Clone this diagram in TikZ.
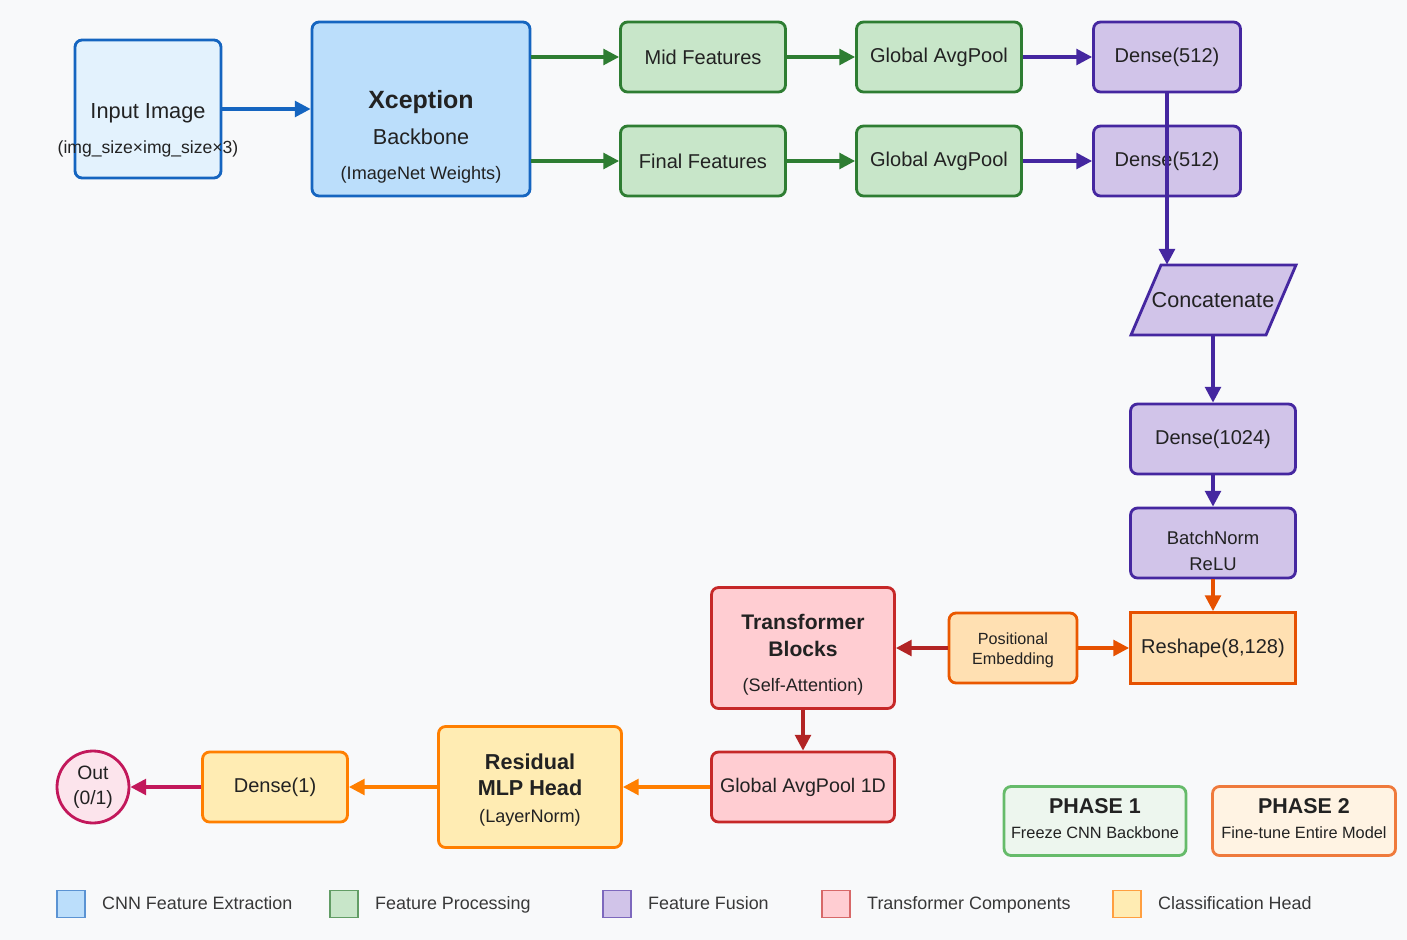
\documentclass[tikz,border=0pt]{standalone}
\usepackage{fontspec}
\setmainfont{Liberation Sans}
\usepackage{xcolor}
\usepackage{tikz}
\usetikzlibrary{positioning,calc,arrows.meta}

\definecolor{bgpage}{HTML}{F8F9FA}
\definecolor{cnnline}{HTML}{1565C0}
\definecolor{cnnfill}{HTML}{BBDEFB}
\definecolor{inpfill}{HTML}{E3F2FD}
\definecolor{procline}{HTML}{2E7D32}
\definecolor{procfill}{HTML}{C8E6C9}
\definecolor{fuseline}{HTML}{4527A0}
\definecolor{fusefill}{HTML}{D1C4E9}
\definecolor{posline}{HTML}{E65100}
\definecolor{posfill}{HTML}{FFE0B2}
\definecolor{trline}{HTML}{C62828}
\definecolor{trfill}{HTML}{FFCDD2}
\definecolor{headline}{HTML}{FF7F00}
\definecolor{headfill}{HTML}{FFECB3}
\definecolor{outline}{HTML}{C2185B}
\definecolor{outfill}{HTML}{FCE4EC}
\definecolor{ph1line}{HTML}{66BB6A}
\definecolor{ph1fill}{HTML}{EDF6EE}
\definecolor{ph2line}{HTML}{EF7A3C}
\definecolor{ph2fill}{HTML}{FFF3E3}
\definecolor{inktext}{HTML}{222222}

\newcommand{\setfs}[2]{\fontsize{#1}{#2}\selectfont}

\begin{document}
\begin{tikzpicture}[x=0.02cm, y=-0.02cm,
  box/.style={draw, line width=1.6pt, rounded corners=4pt, minimum width=3.3cm,
    minimum height=1.4cm, align=center, text=inktext, font=\setfs{11.4}{14}},
  txt/.style={align=center, text=inktext},
  arr/.style={line width=1.9pt, -{Triangle[length=9pt,width=9pt]}},
  keybox/.style={draw, line width=1.1pt, minimum width=0.56cm, minimum height=0.54cm},
  keytext/.style={anchor=base west, text=inktext!90, font=\setfs{10.2}{12}}]

  \fill[bgpage] (0,0) rectangle (1407,940);
  \useasboundingbox (0,0) rectangle (1407,940);

  % CNN feature extraction
  \node[box, draw=cnnline, fill=inpfill, minimum width=2.92cm, minimum height=2.76cm] (inimg) at (148,109) {};
  \node[txt] (inimg-txt) at (148,130)
    {\setfs{12.4}{15}Input Image\\[8pt]\setfs{10}{12}\makebox[0pt]{(img\_size×img\_size×3)}};
  \node[box, draw=cnnline, fill=cnnfill, minimum width=4.36cm, minimum height=3.48cm] (xcep) at (421,109) {};
  \node[txt] (xcep-txt) at (421,137)
    {\setfs{14.2}{17}\textbf{Xception}\\[8.5pt]\setfs{12.3}{15}Backbone\\[7.8pt]\setfs{10.3}{12}(ImageNet Weights)};
  \draw[arr, cnnline] (inimg.east) -- (xcep.west);

  % Feature processing
  \node[box, draw=procline, fill=procfill] (mid) at (703,57) {Mid Features};
  \node[box, draw=procline, fill=procfill] (final) at (703,161) {Final Features};
  \node[box, draw=procline, fill=procfill] (gap1) at (939,57) {Global AvgPool};
  \node[box, draw=procline, fill=procfill] (gap2) at (939,161) {Global AvgPool};
  \draw[arr, procline] (mid.west -| xcep.east) -- (mid.west);
  \draw[arr, procline] (final.west -| xcep.east) -- (final.west);
  \draw[arr, procline] (mid) -- (gap1);
  \draw[arr, procline] (final) -- (gap2);

  % Feature fusion
  \node[box, draw=fuseline, fill=fusefill, minimum width=2.94cm] (dns1) at (1167,57) {Dense(512)};
  \node[box, draw=fuseline, fill=fusefill, minimum width=2.94cm] (dns2) at (1167,161) {Dense(512)};
  \draw[arr, fuseline] (gap1) -- (dns1);
  \draw[arr, fuseline] (gap2) -- (dns2);

  \filldraw[line width=1.6pt, draw=fuseline, fill=fusefill]
    (1161,265) -- (1296,265) -- (1266,335) -- (1131,335) -- cycle;
  \node[minimum width=3.3cm, minimum height=1.4cm, text=inktext, font=\setfs{12.3}{15}] (concat) at (1213,300) {Concatenate};
  \draw[arr, fuseline] (dns1.south) -- (dns1.south |- concat.north);

  \node[box, draw=fuseline, fill=fusefill] (dns1024) at (1213,439) {Dense(1024)};
  \node[box, draw=fuseline, fill=fusefill] (bnrelu) at (1213,543) {};
  \node[txt, font=\setfs{10.5}{14.8}] (bnrelu-txt) at (1213,551) {BatchNorm\\ReLU};
  \draw[arr, fuseline] (concat.south) -- (dns1024.north);
  \draw[arr, fuseline] (dns1024) -- (bnrelu);

  % Transformer part
  \node[box, draw=posline, fill=posfill, rounded corners=0pt, minimum height=1.42cm] (reshape) at (1213,648) {Reshape(8,128)};
  \node[box, draw=posline!85!orange, fill=posfill, minimum width=2.56cm] (posemb) at (1013,648) {};
  \node[txt, font=\setfs{9.2}{11.4}] (posemb-txt) at (1013,650) {Positional\\Embedding};
  \node[box, draw=trline, fill=trfill, minimum width=3.66cm, minimum height=2.42cm] (trans) at (803,648) {};
  \node[txt, font=\setfs{12}{15.3}] (trans-txt) at (803,655)
    {\textbf{Transformer}\\\textbf{Blocks}\\[4.5pt]\setfs{10.3}{15.3}(Self-Attention)};
  \node[box, draw=trline, fill=trfill, minimum width=3.66cm, font=\setfs{11.2}{14}] (gap1d) at (803,787) {Global AvgPool 1D};
  \draw[arr, posline] (bnrelu) -- (reshape);
  \draw[arr, posline] (posemb) -- (reshape);
  \draw[arr, trline!90!black] (posemb) -- (trans);
  \draw[arr, trline!90!black] (trans) -- (gap1d);

  % Classification head
  \node[box, draw=headline, fill=headfill, minimum width=3.66cm, minimum height=2.42cm] (resid) at (530,787) {};
  \node[txt, font=\setfs{12.3}{15}] (resid-txt) at (530,790)
    {\textbf{Residual}\\\textbf{MLP Head}\\\setfs{10.3}{15}(LayerNorm)};
  \node[box, draw=headline, fill=headfill, minimum width=2.9cm] (dns1out) at (275,787) {Dense(1)};
  \node[circle, draw=outline, fill=outfill, line width=1.6pt, minimum size=1.44cm, inner sep=0pt,
    align=center, text=inktext, font=\setfs{11}{14.2}] (out) at (93,787) {Out\\(0/1)};
  \draw[arr, headline] (gap1d) -- (resid);
  \draw[arr, headline] (resid) -- (dns1out);
  \draw[arr, outline] (dns1out) -- (out);

  % Training phases
  \node[box, draw=ph1line, fill=ph1fill, minimum width=3.64cm, minimum height=1.38cm] (phase1) at (1095,821) {};
  \node[txt] (phase1-txt) at (1095,819)
    {\setfs{12.2}{14.8}\textbf{PHASE 1}\\[2.3pt]\setfs{9.3}{14.8}Freeze CNN Backbone};
  \node[box, draw=ph2line, fill=ph2fill, minimum width=3.66cm, minimum height=1.38cm] (phase2) at (1304,821) {};
  \node[txt] (phase2-txt) at (1304,819)
    {\setfs{12.2}{14.8}\textbf{PHASE 2}\\[2.3pt]\setfs{9.3}{14.8}Fine-tune Entire Model};

  % Legend
  \node[keybox, draw=cnnline!70, fill=cnnfill] (key1) at (71,904) {};
  \node[keytext] (key1-txt) at (96,909.5) {CNN Feature Extraction};
  \node[keybox, draw=procline!75, fill=procfill] (key2) at (344,904) {};
  \node[keytext] (key2-txt) at (369,909.5) {Feature Processing};
  \node[keybox, draw=fuseline!70, fill=fusefill] (key3) at (617,904) {};
  \node[keytext] (key3-txt) at (642,909.5) {Feature Fusion};
  \node[keybox, draw=trline!70, fill=trfill] (key4) at (836,904) {};
  \node[keytext] (key4-txt) at (861,909.5) {Transformer Components};
  \node[keybox, draw=headline!75, fill=headfill] (key5) at (1127,904) {};
  \node[keytext] (key5-txt) at (1152,909.5) {Classification Head};
\end{tikzpicture}
\end{document}
